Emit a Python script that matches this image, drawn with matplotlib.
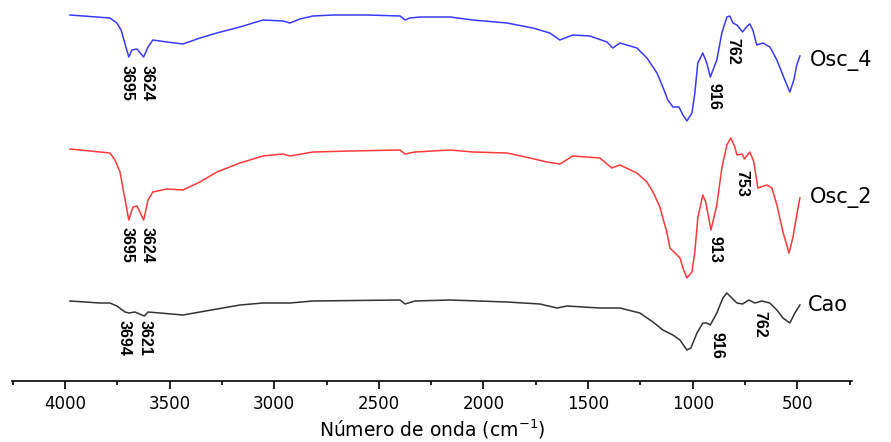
import matplotlib
matplotlib.use('Agg')
import matplotlib.pyplot as plt
from matplotlib.ticker import MultipleLocator
import numpy as np

# FTIR spectra (transmittance, arbitrary units) vs wavenumber (cm-1)
wn_cao = [3976, 3833, 3785, 3752, 3713, 3694, 3666, 3621, 3603, 3546, 3436, 3355,
          3164, 3054, 2925, 2815, 2399, 2375, 2328, 2160, 1888, 1730, 1649, 1601,
          1444, 1348, 1253, 1190, 1143, 1095, 1061, 1028, 1009, 980, 952, 933, 916,
          885, 856, 837, 813, 789, 762, 732, 703, 670, 632, 598, 569, 536, 512, 488]
t_cao = [80, 78, 78, 75, 69, 68, 69, 65, 69, 68, 66, 69,
         76, 78, 78, 80, 81, 77, 80, 81, 79, 77, 73, 75,
         73, 73, 68, 59, 51, 46, 41, 31, 33, 48, 58, 58, 56,
         68, 83, 88, 83, 78, 77, 81, 78, 80, 78, 71, 63, 58, 68, 76]

wn_osc2 = [3976, 3785, 3761, 3737, 3695, 3675, 3656, 3624, 3603, 3580, 3513, 3436,
           3355, 3274, 3164, 3054, 2958, 2925, 2815, 2638, 2399, 2375, 2328, 2160,
           2051, 1888, 1778, 1697, 1635, 1573, 1444, 1387, 1348, 1267, 1219, 1190,
           1157, 1143, 1124, 1109, 1085, 1061, 1047, 1028, 1004, 990, 976, 952, 938,
           913, 885, 861, 837, 818, 799, 789, 765, 753, 727, 708, 689, 646, 622, 598,
           569, 540, 522, 503, 488]
t_osc2 = [92, 88, 81, 69, 21, 34, 35, 21, 41, 49, 52, 51,
          59, 69, 78, 85, 87, 85, 89, 90, 91, 87, 89, 91,
          89, 88, 83, 79, 77, 85, 83, 73, 76, 68, 59, 49,
          34, 23, 9, -7, -12, -17, -27, -37, -31, -11, 23, 46, 39,
          11, 36, 73, 96, 103, 94, 86, 87, 82, 89, 79, 53, 56, 53, 36,
          9, -12, 3, 26, 43]

wn_osc4 = [3976, 3785, 3752, 3732, 3695, 3680, 3656, 3624, 3603, 3580, 3513, 3436,
           3355, 3274, 3164, 3054, 2958, 2925, 2877, 2815, 2720, 2557, 2399, 2375,
           2352, 2304, 2160, 2051, 1888, 1764, 1683, 1635, 1573, 1492, 1410, 1382,
           1348, 1267, 1219, 1171, 1143, 1119, 1095, 1066, 1047, 1028, 1004, 990,
           976, 952, 933, 916, 885, 861, 837, 823, 808, 789, 762, 740, 727, 713,
           694, 665, 631, 598, 560, 536, 517, 503, 488]
t_osc4 = [96, 93, 88, 81, 54, 61, 62, 54, 64, 71, 69, 67,
          73, 78, 84, 91, 90, 88, 92, 95, 96, 96, 95, 91,
          93, 94, 94, 91, 88, 83, 78, 71, 76, 75, 69, 63,
          68, 63, 53, 38, 24, 11, 4, 4, -4, -10, -2, 18,
          48, 58, 48, 34, 51, 78, 94, 95, 88, 86, 79, 85, 87, 81,
          66, 68, 64, 51, 31, 19, 31, 46, 55]

names = ['Cao', 'Osc_2', 'Osc_4']
offsets = [0, 140, 270]
colors = ['#333333', '#ff3a3a', '#3a3aff']

peaks_cao = [3694, 3621, 916, 762]
peaks_osc2 = [3695, 3624, 913, 753]
peaks_osc4 = [3695, 3624, 916, 762]

fig = plt.figure(figsize=(8.91, 4.42), dpi=100)
ax = fig.add_axes([0.0135, 0.138, 0.9425, 0.862])

spectra = [(wn_cao, t_cao), (wn_osc2, t_osc2), (wn_osc4, t_osc4)]
for (wn, t), off, c in zip(spectra, offsets, colors):
    ax.plot(wn, np.array(t) + off, color=c, lw=1.1)

# series names at the right end of each trace
name_pos = [(450, 76), (440, 184), (440, 321)]
for name, (x, y) in zip(names, name_pos):
    ax.text(x, y, name, fontsize=15, ha='left', va='center')

# peak labels, written vertically under the bands
lab_pos = {
    'cao': [(3718, 61), (3618, 61), (885, 49), (679, 70)],
    'osc2': [(3704, 154), (3606, 154), (894, 145), (765, 211)],
    'osc4': [(3704, 316), (3606, 316), (899, 298), (808, 343)],
}
for key, peaks in [('cao', peaks_cao), ('osc2', peaks_osc2), ('osc4', peaks_osc4)]:
    for p, (x, y) in zip(peaks, lab_pos[key]):
        ax.text(x, y, str(p), rotation=-90, ha='center', va='top',
                fontsize=11.5, fontweight='bold', family='Liberation Sans')

ax.set_xlim(4253, 240)
ax.set_ylim(0, 381)
ax.set_yticks([])
for s in ['left', 'right', 'top']:
    ax.spines[s].set_visible(False)
ax.spines['bottom'].set_linewidth(1.2)
ax.xaxis.set_major_locator(MultipleLocator(500))
ax.xaxis.set_minor_locator(MultipleLocator(250))
ax.tick_params(axis='x', which='major', direction='out', length=6, width=1.2,
               labelsize=12, pad=4)
ax.tick_params(axis='x', which='minor', direction='out', length=3, width=1.2)
ax.set_xlabel('Número de onda (cm$^{-1}$)', fontsize=13.5, labelpad=3)

fig.savefig('out.png', dpi=100)
